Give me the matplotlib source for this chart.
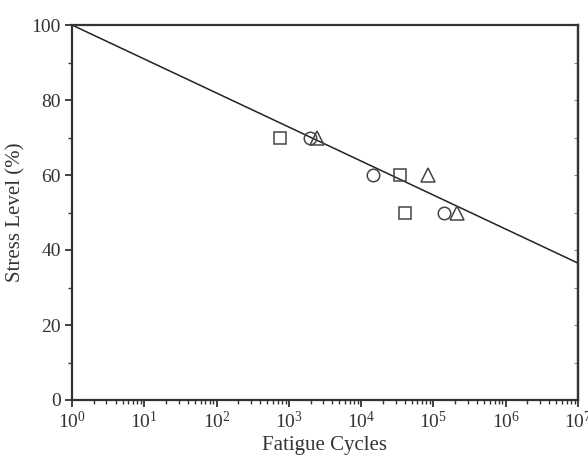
import numpy as np
import matplotlib.pyplot as plt
from matplotlib.ticker import LogLocator, MultipleLocator

plt.rcParams['font.family'] = ['Liberation Serif', 'DejaVu Serif']
plt.rcParams['mathtext.fontset'] = 'stix'

# squares
sq_cycles = [760, 34000, 41000]
sq_stress = [70, 60, 50]
# circles
ci_cycles = [1990, 14700, 141000]
ci_stress = [70, 60, 50]
# triangles
tr_cycles = [2470, 83000, 214000]
tr_stress = [70, 60, 50]
# fitted S-N line end points
fit_cycles = [1, 1e7]
fit_stress = [100, 36.5]

fig = plt.figure(figsize=(5.88, 4.58), dpi=100)
ax = fig.add_axes([72/588, 58/458, 506/588, 375/458])

mk = dict(linestyle='none', markerfacecolor='none', markeredgecolor='#444444',
          markeredgewidth=1.1, markersize=9, zorder=3)
ax.plot(sq_cycles, sq_stress, marker='s', **mk)
ax.plot(ci_cycles, ci_stress, marker='o', **mk)
ax.plot(tr_cycles, tr_stress, marker='^', **{**mk, 'markersize': 10})
ax.plot(fit_cycles, fit_stress, color='#222222', linewidth=1.1, zorder=2)

ax.set_xscale('log')
ax.set_xlim(1, 1e7)
ax.set_ylim(0, 100)
ax.xaxis.set_major_locator(LogLocator(base=10, numticks=10))
ax.xaxis.set_minor_locator(LogLocator(base=10, subs=np.arange(2, 10), numticks=20))
ax.yaxis.set_major_locator(MultipleLocator(20))
ax.yaxis.set_minor_locator(MultipleLocator(10))

for s in ax.spines.values():
    s.set_linewidth(1.6)
    s.set_color('#333333')

ax.tick_params(axis='both', which='major', direction='out', length=5, width=1.3,
               labelsize=14, colors='#333333', pad=3)
ax.tick_params(axis='both', which='minor', direction='out', length=3, width=1.0,
               colors='#333333')

# faint inward ticks on the right spine
sec = ax.secondary_yaxis('right')
sec.yaxis.set_major_locator(MultipleLocator(20))
sec.yaxis.set_minor_locator(MultipleLocator(10))
sec.tick_params(which='both', direction='in', length=3, width=0.8,
                colors='#888888', labelright=False)
sec.spines['right'].set_linewidth(1.6)
sec.spines['right'].set_color('#333333')

ax.set_xlabel('Fatigue Cycles', fontsize=15, color='#333333', labelpad=3)
ax.set_ylabel('Stress Level (%)', fontsize=15, color='#333333', labelpad=4)

fig.savefig('out.png', dpi=100)
